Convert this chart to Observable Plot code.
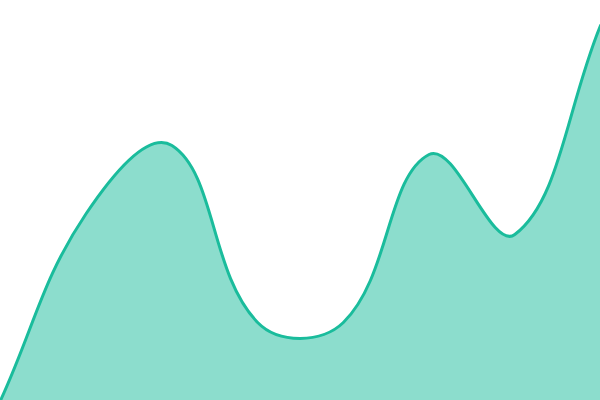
<!DOCTYPE html>
<html>
<head>
<meta charset="utf-8">
<script src="https://cdn.jsdelivr.net/npm/d3@7"></script>
<script src="https://cdn.jsdelivr.net/npm/@observablehq/plot@0.6"></script>
<style>
  html, body { margin: 0; padding: 0; background: #fff; }
</style>
</head>
<body>
<div id="chart"></div>
<script>
const steps = [0, 1, 2, 3, 4, 5, 6, 7];
const values = [0, 46.75, 63.75, 19.5, 19.5, 61.5, 41.5, 93.75];

const data = steps.map((s, i) => ({step: s, value: values[i]}));

// Spline curve with tension 0.4 (distance-weighted control points)
const TENSION = 0.4;
function splineCurve(context) {
  return {
    _line: NaN,
    _pts: [],
    areaStart() { this._line = 0; },
    areaEnd() { this._line = NaN; },
    lineStart() { this._pts = []; },
    point(x, y) { this._pts.push([+x, +y]); },
    lineEnd() {
      const p = this._pts, n = p.length;
      if (n) {
        if (this._line) context.lineTo(p[0][0], p[0][1]);
        else context.moveTo(p[0][0], p[0][1]);
        const cps = p.map((cur, i) => {
          const prev = p[i - 1] || cur, next = p[i + 1] || cur;
          const d01 = Math.hypot(cur[0] - prev[0], cur[1] - prev[1]);
          const d12 = Math.hypot(next[0] - cur[0], next[1] - cur[1]);
          let s01 = d01 / (d01 + d12), s12 = d12 / (d01 + d12);
          if (isNaN(s01)) s01 = 0;
          if (isNaN(s12)) s12 = 0;
          const fa = TENSION * s01, fb = TENSION * s12;
          return {
            px: cur[0] - fa * (next[0] - prev[0]), py: cur[1] - fa * (next[1] - prev[1]),
            nx: cur[0] + fb * (next[0] - prev[0]), ny: cur[1] + fb * (next[1] - prev[1])
          };
        });
        for (let i = 1; i < n; i++) {
          context.bezierCurveTo(cps[i - 1].nx, cps[i - 1].ny, cps[i].px, cps[i].py, p[i][0], p[i][1]);
        }
      }
      if (this._line || (this._line !== 0 && n === 1)) context.closePath();
      this._line = 1 - this._line;
    }
  };
}

const chart = Plot.plot({
  width: 600,
  height: 400,
  margin: 0,
  x: {domain: [0, 7], axis: null},
  y: {domain: [0, 100], axis: null},
  marks: [
    Plot.areaY(data, {x: "step", y: "value", curve: splineCurve, fill: "#1abc9c", fillOpacity: 0.5}),
    Plot.lineY(data, {x: "step", y: "value", curve: splineCurve, stroke: "#1abc9c", strokeWidth: 3})
  ]
});
document.getElementById("chart").appendChild(chart);
</script>
</body>
</html>
